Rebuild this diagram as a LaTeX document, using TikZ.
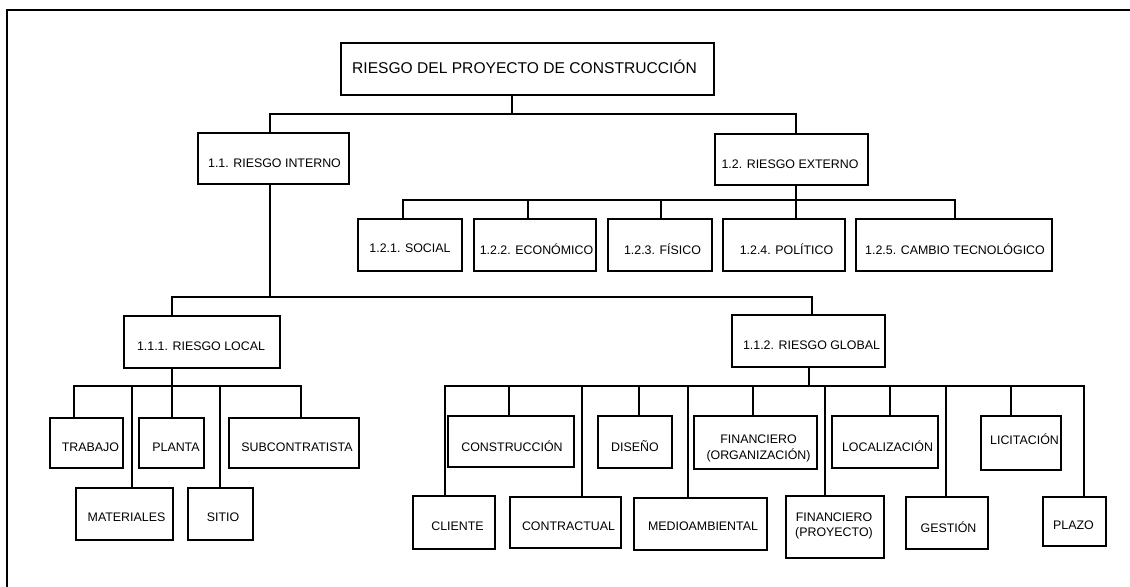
\documentclass[tikz,border=0pt]{standalone}
\usepackage{fontspec}
\setmainfont{Liberation Sans}
\begin{document}
\begin{tikzpicture}[x=0.75pt,y=-0.75pt,
  frame/.style={draw, line width=2.2pt, inner sep=0pt},
  lbl/.style={inner sep=0pt, align=center, font=\fontsize{9.3}{11.4}\selectfont},
  rootlbl/.style={lbl, font=\fontsize{11.7}{14}\selectfont},
  link/.style={line width=1.8pt},
  border/.style={line width=2.1pt}]
% box from its corners (x1,y1)-(x2,y2) in pixel units,
% with its caption moved by (dx,dy) from the centre
\newcommand\rbox[9][lbl]{%
  \node[frame, minimum width={(#5-#3)*0.75pt}, minimum height={(#6-#4)*0.75pt}]
    (#2) at ({(#3+#5)/2},{(#4+#6)/2}) {};
  \node[#1] (#2-t) at ([xshift={(#7)*0.75pt}, yshift={-(#8)*0.75pt}]#2.center) {#9};}
% parent -> child through a horizontal bus at height busy
\newcommand\tree[5]{%
  \draw[link] (#1.south -| #2,0) -- (#2,#3) -| (#4.north -| #5,0);}

\useasboundingbox (0,0) rectangle (1130,586);
\draw[border] (7,588) -- (7,10) -- (1132,10);

% level 0 and 1
\rbox[rootlbl]{root}{341}{43}{714}{95}{-3}{-2}{RIESGO DEL PROYECTO DE CONSTRUCCIÓN}
\rbox{int}{198}{133}{349}{184}{1}{4.5}{1.1. RIESGO INTERNO}
\rbox{ext}{715}{134}{868}{185}{-1.5}{5}{1.2. RIESGO EXTERNO}
\tree{root}{512}{114}{int}{270}
\tree{root}{512}{114}{ext}{796}

% external risks
\rbox{soc}{358}{219}{462}{271}{0}{3.5}{1.2.1. SOCIAL}
\rbox{eco}{474}{219}{596}{271}{1.5}{4.5}{1.2.2. ECONÓMICO}
\rbox{fis}{608}{219}{712}{271}{2.5}{4}{1.2.3. FÍSICO}
\rbox{pol}{723}{219}{845}{271}{2.5}{4}{1.2.4. POLÍTICO}
\rbox{tec}{856}{219}{1052}{271}{1}{4}{1.2.5. CAMBIO TECNOLÓGICO}
\foreach \c/\x in {soc/403, eco/528, fis/661, pol/796, tec/955}
  {\tree{ext}{796}{200}{\c}{\x}}

% internal risks
\rbox{loc}{124}{316}{280}{368}{-1}{4.5}{1.1.1. RIESGO LOCAL}
\rbox{glo}{732}{315}{885}{367}{3}{4}{1.1.2. RIESGO GLOBAL}
\tree{int}{270}{297}{loc}{172}
\tree{int}{270}{297}{glo}{812}

% local risks
\rbox{tra}{50}{418}{123}{468}{4}{4}{TRABAJO}
\rbox{mat}{76}{488}{173}{540}{2}{3}{MATERIALES}
\rbox{pla}{139}{418}{204}{468}{4.5}{4}{PLANTA}
\rbox{sit}{188}{488}{253}{540}{2.5}{3}{SITIO}
\rbox{sub}{229}{418}{359}{468}{3}{4}{SUBCONTRATISTA}
\foreach \c/\x in {tra/74, mat/132, pla/172, sit/220, sub/301}
  {\tree{loc}{172}{386}{\c}{\x}}

% global risks
\rbox{con}{448}{416}{574}{467}{1}{4.5}{CONSTRUCCIÓN}
\rbox{cli}{413}{496}{495}{549}{3.5}{3.5}{CLIENTE}
\rbox{ctr}{510}{497}{621}{548}{3}{3.5}{CONTRACTUAL}
\rbox{dis}{598}{416}{672}{468}{0}{4}{DISEÑO}
\rbox{med}{634}{498}{767}{550}{2.5}{2}{MEDIOAMBIENTAL}
\rbox{fio}{694}{416}{817}{469}{3}{6}{FINANCIERO\\(ORGANIZACIÓN)}
\rbox{fip}{786}{496}{884}{558}{-1}{-1}{FINANCIERO\\(PROYECTO)}
\rbox{lcz}{832}{416}{938}{468}{2.5}{4}{LOCALIZACIÓN}
\rbox{ges}{906}{497}{988}{549}{1.5}{4}{GESTIÓN}
\rbox{lic}{981}{416}{1061}{470}{3.5}{-3.5}{LICITACIÓN}
\rbox{plz}{1043}{497}{1106}{546}{-1}{3.5}{PLAZO}
\foreach \c/\x in {cli/445, con/509, ctr/582, dis/639, med/688, fio/753,
                   fip/825, lcz/890, ges/946, lic/1011, plz/1084}
  {\tree{glo}{809}{386}{\c}{\x}}
\end{tikzpicture}
\end{document}
